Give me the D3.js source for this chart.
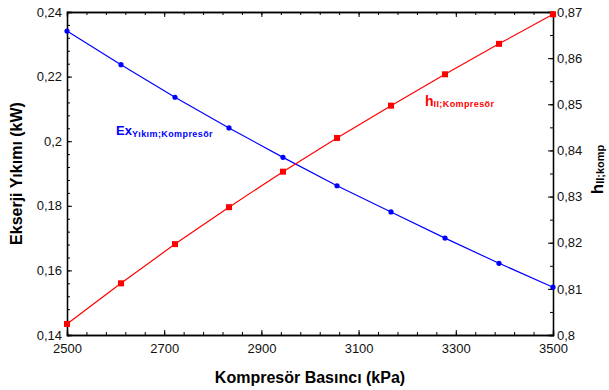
<!DOCTYPE html>
<html>
<head>
<meta charset="utf-8">
<script src="https://cdn.jsdelivr.net/npm/d3@7"></script>
<style>
  body { margin: 0; background: #fff; }
  svg { display: block; font-family: 'Liberation Sans', Arial, sans-serif; }
</style>
</head>
<body>
<svg id="chart" width="609" height="390"></svg>
<script>
// kompresör basıncı (kPa)
const pressure = [2500, 2611.1, 2722.2, 2833.3, 2944.4, 3055.6, 3166.7, 3277.8, 3388.9, 3500]
// eksergi yıkımı (kW), left axis
const exDestruction = [0.2341, 0.2237, 0.2136, 0.2041, 0.1950, 0.1862, 0.1781, 0.1700, 0.1622, 0.1548]
// ikinci yasa verimi, right axis
const etaII = [0.8024, 0.8112, 0.8197, 0.8277, 0.8354, 0.8427, 0.8497, 0.8565, 0.8631, 0.8695]

const xTicks = [2500, 2700, 2900, 3100, 3300, 3500]
const yLeftTicks = [0.14, 0.16, 0.18, 0.2, 0.22, 0.24]
const yRightTicks = [0.8, 0.81, 0.82, 0.83, 0.84, 0.85, 0.86, 0.87]

const margin = { top: 12, right: 56, bottom: 55, left: 67 }
const width = 609 - margin.left - margin.right
const height = 390 - margin.top - margin.bottom

const svg = d3.select('#chart')
const g = svg.append('g').attr('transform', `translate(${margin.left},${margin.top})`)

const x = d3.scaleLinear().domain([2500, 3500]).range([0, width])
const yL = d3.scaleLinear().domain([0.14, 0.24]).range([height, 0])
const yR = d3.scaleLinear().domain([0.8, 0.87]).range([height, 0])

const fmt = d => String(+d.toFixed(3)).replace('.', ',')

// minor ticks
const xMinor = d3.range(2500, 3500.1, 40)
const yLMinor = d3.range(0.14, 0.2401, 0.004)
const yRMinor = d3.range(0.8, 0.8701, 0.005)

function styleAxis(sel) {
  sel.select('.domain').attr('stroke', '#000').attr('stroke-width', 1.3)
  sel.selectAll('.tick line').attr('stroke', '#000')
  sel.selectAll('.tick text').attr('font-size', 13).attr('fill', '#111')
}

// minor ticks first (no labels)
g.append('g').attr('transform', `translate(0,${height})`)
  .call(d3.axisBottom(x).tickValues(xMinor).tickSize(-3).tickFormat(''))
  .call(styleAxis)
g.append('g')
  .call(d3.axisTop(x).tickValues(xMinor).tickSize(-3).tickFormat(''))
  .call(styleAxis)
g.append('g')
  .call(d3.axisLeft(yL).tickValues(yLMinor).tickSize(-3).tickFormat(''))
  .call(styleAxis)
g.append('g').attr('transform', `translate(${width},0)`)
  .call(d3.axisRight(yR).tickValues(yRMinor).tickSize(-3).tickFormat(''))
  .call(styleAxis)

// major ticks
g.append('g').attr('transform', `translate(0,${height})`)
  .call(d3.axisBottom(x).tickValues(xTicks).tickSize(-5).tickPadding(9).tickFormat(d3.format('d')))
  .call(styleAxis)
g.append('g')
  .call(d3.axisTop(x).tickValues(xTicks).tickSize(-5).tickFormat(''))
  .call(styleAxis)
g.append('g')
  .call(d3.axisLeft(yL).tickValues(yLeftTicks).tickSize(-5).tickPadding(4).tickFormat(fmt))
  .call(styleAxis)
  .call(a => a.selectAll('.tick text').attr('dx', -1))
g.append('g').attr('transform', `translate(${width},0)`)
  .call(d3.axisRight(yR).tickValues(yRightTicks).tickSize(-5).tickPadding(4).tickFormat(fmt))
  .call(styleAxis)

// lines
const blueLine = d3.line().x((d, i) => x(pressure[i])).y(d => yL(d))
const redLine = d3.line().x((d, i) => x(pressure[i])).y(d => yR(d))

g.append('path').datum(exDestruction)
  .attr('d', blueLine).attr('fill', 'none').attr('stroke', '#0000ff').attr('stroke-width', 1.2)
g.append('path').datum(etaII)
  .attr('d', redLine).attr('fill', 'none').attr('stroke', '#ff0000').attr('stroke-width', 1.2)

g.selectAll('.pt-blue').data(exDestruction).enter().append('circle')
  .attr('cx', (d, i) => x(pressure[i])).attr('cy', d => yL(d)).attr('r', 2.6).attr('fill', '#0000ff')
g.selectAll('.pt-red').data(etaII).enter().append('rect')
  .attr('x', (d, i) => x(pressure[i]) - 3).attr('y', d => yR(d) - 3)
  .attr('width', 6).attr('height', 6).attr('fill', '#ff0000')

// series labels
const exLabel = svg.append('text').attr('x', 116).attr('y', 135)
  .attr('fill', '#0000ff').attr('font-weight', 'bold')
exLabel.append('tspan').attr('font-size', 13).text('Ex')
exLabel.append('tspan').attr('font-size', 9).attr('dy', 2).attr('letter-spacing', 0.4).text('Yıkım;Kompresör')

const hLabel = svg.append('text').attr('x', 425).attr('y', 106)
  .attr('fill', '#ff0000').attr('font-weight', 'bold')
hLabel.append('tspan').attr('font-size', 14).text('h')
hLabel.append('tspan').attr('font-size', 9).attr('dy', 1).attr('letter-spacing', 0.4).text('II;Kompresör')

// axis titles
svg.append('text')
  .attr('x', margin.left + width / 2).attr('y', 383)
  .attr('text-anchor', 'middle').attr('font-size', 16).attr('font-weight', 'bold')
  .text('Kompresör Basıncı (kPa)')

svg.append('text')
  .attr('transform', `translate(22,${margin.top + height / 2}) rotate(-90)`)
  .attr('text-anchor', 'middle').attr('font-size', 16).attr('font-weight', 'bold')
  .text('Ekserji Yıkımı (kW)')

const rTitle = svg.append('text')
  .attr('transform', `translate(603,${margin.top + height / 2 - 4}) rotate(-90)`)
  .attr('text-anchor', 'middle').attr('font-weight', 'bold')
rTitle.append('tspan').attr('font-size', 17).text('h')
rTitle.append('tspan').attr('font-size', 11).attr('dy', 1).text('II;komp')
</script>
</body>
</html>
